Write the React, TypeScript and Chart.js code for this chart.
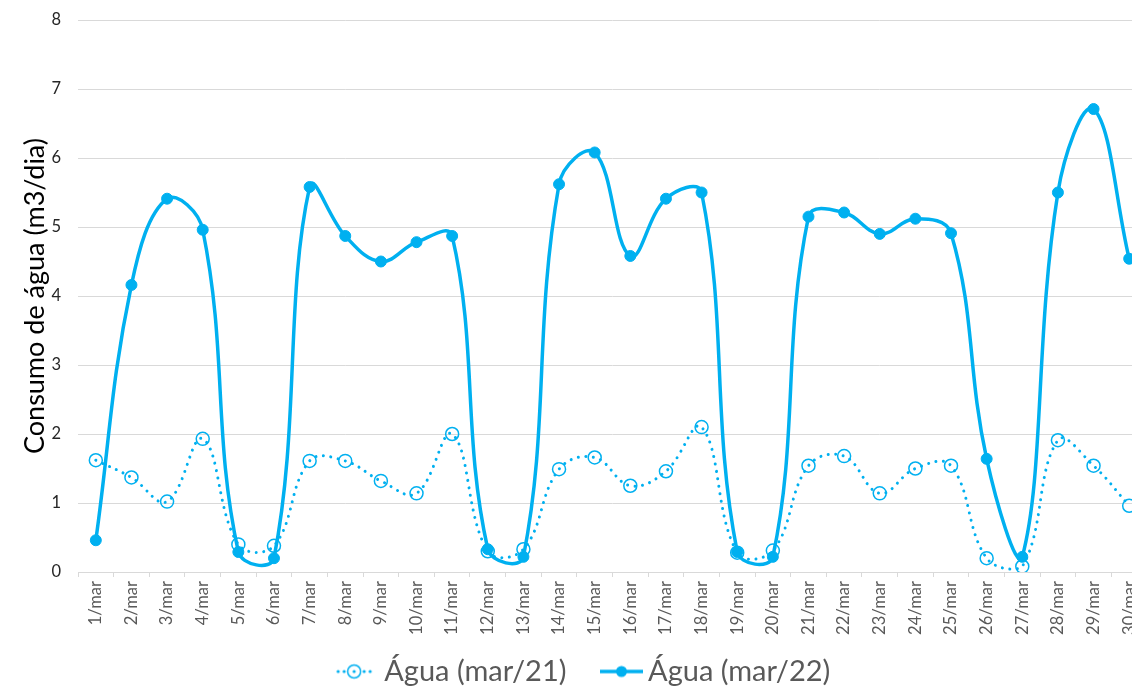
import React, { useEffect, useRef } from "react";
import { Chart, registerables } from "chart.js";

Chart.register(...registerables);

const categories = [
  "1/mar", "2/mar", "3/mar", "4/mar", "5/mar", "6/mar", "7/mar", "8/mar", "9/mar", "10/mar",
  "11/mar", "12/mar", "13/mar", "14/mar", "15/mar", "16/mar", "17/mar", "18/mar", "19/mar", "20/mar",
  "21/mar", "22/mar", "23/mar", "24/mar", "25/mar", "26/mar", "27/mar", "28/mar", "29/mar", "30/mar",
];

const agua21 = [
  1.62, 1.37, 1.02, 1.93, 0.4, 0.38, 1.61, 1.61, 1.32, 1.14,
  2.0, 0.3, 0.33, 1.49, 1.66, 1.25, 1.46, 2.1, 0.28, 0.31,
  1.54, 1.68, 1.14, 1.5, 1.54, 0.2, 0.08, 1.91, 1.54, 0.96,
];

const agua22 = [
  0.46, 4.16, 5.41, 4.96, 0.29, 0.2, 5.58, 4.87, 4.5, 4.78,
  4.87, 0.33, 0.22, 5.62, 6.08, 4.58, 5.41, 5.5, 0.29, 0.22,
  5.15, 5.21, 4.9, 5.12, 4.91, 1.64, 0.22, 5.5, 6.71, 4.54,
];

const seriesLabels = ["Água (mar/21)", "Água (mar/22)"];
const yTitle = "Consumo de água (m3/dia)";
const yMin = 0;
const yMax = 8;
const yStep = 1;

const BLUE = "#00B0F0";
const FONT = "Lato, 'Open Sans', sans-serif";

// legend symbol images; the symbol is drawn off-centre so that it sits close to its text
function makeSymbol(kind: "dotted" | "solid"): HTMLCanvasElement {
  const c = document.createElement("canvas");
  const h = 20;
  const cy = 10;
  ctxSetup: {
  }
  if (kind === "dotted") {
    const off = 7;
    const len = 40;
    c.width = 2 * (off + len / 2);
    c.height = h;
    const ctx = c.getContext("2d")!;
    ctx.strokeStyle = BLUE;
    ctx.fillStyle = BLUE;
    const x0 = c.width - len;
    [4, 10, 20, 30, 36].forEach((dx) => {
      ctx.beginPath();
      ctx.arc(x0 + dx, cy, 1.6, 0, Math.PI * 2);
      ctx.fill();
    });
    ctx.lineWidth = 1.5;
    ctx.beginPath();
    ctx.arc(x0 + 20, cy, 6.5, 0, Math.PI * 2);
    ctx.stroke();
  } else {
    const off = 10.5;
    const len = 43;
    c.width = 2 * (off + len / 2);
    c.height = h;
    const ctx = c.getContext("2d")!;
    ctx.strokeStyle = BLUE;
    ctx.fillStyle = BLUE;
    const x0 = c.width - len;
    ctx.lineWidth = 3.5;
    ctx.beginPath();
    ctx.moveTo(x0, cy);
    ctx.lineTo(x0 + len, cy);
    ctx.stroke();
    ctx.beginPath();
    ctx.arc(x0 + len / 2, cy, 5.5, 0, Math.PI * 2);
    ctx.fill();
  }
  return c;
}

export default function App() {
  const ref = useRef<HTMLCanvasElement>(null);

  useEffect(() => {
    const symbols = [makeSymbol("dotted"), makeSymbol("solid")];
    const chart = new Chart(ref.current!, {
      type: "line",
      data: {
        labels: categories,
        datasets: [
          {
            label: seriesLabels[0],
            data: agua21,
            order: 1,
            borderColor: BLUE,
            borderWidth: 3,
            borderDash: [0.01, 7.5],
            borderCapStyle: "round",
            tension: 0.4,
            pointStyle: "circle",
            pointRadius: 6.5,
            pointBorderWidth: 1.5,
            pointBorderColor: BLUE,
            pointBackgroundColor: "rgba(0,0,0,0)",
            fill: false,
          },
          {
            label: seriesLabels[1],
            data: agua22,
            order: 0,
            borderColor: BLUE,
            borderWidth: 3.5,
            tension: 0.4,
            pointStyle: "circle",
            pointRadius: 5.5,
            pointBorderWidth: 1,
            pointBorderColor: BLUE,
            pointBackgroundColor: BLUE,
            fill: false,
          },
        ],
      },
      options: {
        responsive: false,
        animation: false,
        layout: { padding: { top: 20, left: 0, right: 0, bottom: 0 } },
        scales: {
          x: {
            offset: true,
            grid: {
              display: true,
              drawOnChartArea: false,
              drawTicks: true,
              tickLength: 5,
              offset: true,
              color: "#d9d9d9",
              lineWidth: 1,
            },
            border: { display: true, color: "#d9d9d9", width: 1 },
            ticks: {
              autoSkip: false,
              maxRotation: 90,
              minRotation: 90,
              padding: 4,
              color: "#595959",
              font: { family: FONT, size: 16.5 },
            },
            afterFit: (s: any) => {
              s.height = 63;
            },
          },
          y: {
            min: yMin,
            max: yMax,
            ticks: {
              stepSize: yStep,
              padding: 0,
              color: "#262626",
              font: { family: FONT, size: 16.5 },
            },
            grid: {
              color: "#d9d9d9",
              lineWidth: 1,
              drawTicks: true,
              tickLength: 17,
              tickColor: "rgba(0,0,0,0)",
            },
            border: { display: false },
            title: {
              display: true,
              text: yTitle,
              color: "#000000",
              font: { family: FONT, size: 27 },
              padding: { top: 19, bottom: 0 },
            },
            afterFit: (s: any) => {
              s.width = 78;
            },
          },
        },
        plugins: {
          tooltip: { enabled: false },
          legend: {
            position: "bottom",
            labels: {
              usePointStyle: true,
              pointStyleWidth: 45,
              padding: 22,
              color: "#595959",
              font: { family: FONT, size: 29 },
              sort: (a: any, b: any) => a.datasetIndex - b.datasetIndex,
              generateLabels: (ch: any) => {
                const items = (Chart.defaults.plugins.legend.labels as any).generateLabels(ch);
                return items.map((it: any) => ({ ...it, pointStyle: symbols[it.datasetIndex] }));
              },
            },
          },
        },
      } as any,
    });
    return () => chart.destroy();
  }, []);

  return (
    <div
      style={{
        position: "fixed",
        left: 0,
        top: 0,
        width: 1132,
        height: 690,
        overflow: "hidden",
        background: "#ffffff",
      }}
    >
      <canvas ref={ref} width={1155} height={696} style={{ display: "block" }} />
    </div>
  );
}
